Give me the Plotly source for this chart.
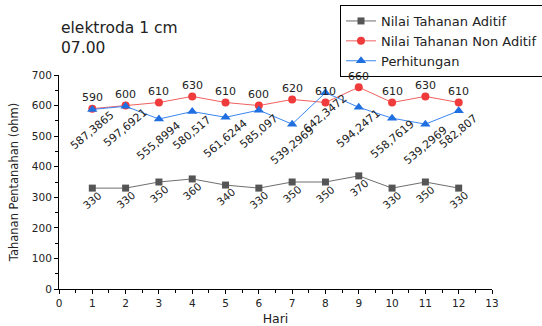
import plotly.graph_objects as go

hari = [1, 2, 3, 4, 5, 6, 7, 8, 9, 10, 11, 12]
aditif = [330, 330, 350, 360, 340, 330, 350, 350, 370, 330, 350, 330]
non_aditif = [590, 600, 610, 630, 610, 600, 620, 610, 660, 610, 630, 610]
perhitungan = [587.3865, 597.6921, 555.8994, 580.517, 561.6244, 585.097,
               539.2969, 642.3472, 594.2471, 558.7619, 539.2969, 582.807]
perhitungan_lbl = ["587,3865", "597,6921", "555,8994", "580,517", "561,6244", "585,097",
                   "539,2969", "642,3472", "594,2471", "558,7619", "539,2969", "582,807"]

FONT = "DejaVu Sans, Liberation Sans, Arial, sans-serif"
GRAY, RED, BLUE = "#555555", "#ef3b3b", "#1f6fe0"

fig = go.Figure()
fig.add_trace(go.Scatter(x=hari, y=aditif, name="Nilai Tahanan Aditif", mode="lines+markers",
                         line=dict(color="#6e6e6e", width=1),
                         marker=dict(symbol="square", size=7, color=GRAY)))
fig.add_trace(go.Scatter(x=hari, y=non_aditif, name="Nilai Tahanan Non Aditif", mode="lines+markers",
                         line=dict(color="#f26060", width=1),
                         marker=dict(symbol="circle", size=8, color=RED)))
fig.add_trace(go.Scatter(x=hari, y=perhitungan, name="Perhitungan", mode="lines+markers",
                         line=dict(color="#3a86f0", width=1),
                         marker=dict(symbol="triangle-up", size=9, color=BLUE)))

ann = []
for x, y in zip(hari, non_aditif):
    ann.append(dict(x=x, y=y, text=str(y), showarrow=False, yshift=11,
                    font=dict(size=11, color="#222", family=FONT)))
for x, y, t in zip(hari, perhitungan, perhitungan_lbl):
    ann.append(dict(x=x, y=y, text=t, showarrow=False, yshift=-21, textangle=-40,
                    font=dict(size=11, color="#222", family=FONT)))
for x, y in zip(hari, aditif):
    ann.append(dict(x=x, y=y, text=str(y), showarrow=False, yshift=-12, textangle=-40,
                    font=dict(size=10.5, color="#222", family=FONT)))

axis_common = dict(showline=True, linecolor="black", linewidth=1, ticks="outside",
                   ticklen=4, tickcolor="black", showgrid=False, zeroline=False,
                   automargin=False,
                   tickfont=dict(size=10.5, color="#222", family=FONT))

fig.update_layout(
    width=542, height=326,
    margin=dict(l=59, r=50, t=75, b=37, autoexpand=False),
    paper_bgcolor="white", plot_bgcolor="white",
    font=dict(family=FONT, color="#222"),
    annotations=ann,
    title=dict(text="elektroda 1 cm<br>07.00", x=61/542, xanchor="left", xref="container",
               y=1 - 33/326, yanchor="top", yref="container",
               font=dict(size=15.5, color="#222", family=FONT)),
    legend=dict(x=340/542, xref="container", xanchor="left", y=1 - 5/326, yref="container",
                yanchor="top", bordercolor="black", borderwidth=1, bgcolor="white",
                font=dict(size=13, color="#222", family=FONT), tracegroupgap=0,
                itemwidth=30),
    xaxis=dict(range=[0, 13], dtick=1, tick0=0,
               minor=dict(ticks="outside", dtick=0.5, ticklen=3, tickcolor="black"),
               title=dict(text="Hari", font=dict(size=12.5, family=FONT, color="#222"), standoff=8),
               **axis_common),
    yaxis=dict(range=[0, 700], dtick=100, tick0=0,
               minor=dict(ticks="outside", dtick=50, ticklen=3, tickcolor="black"),
               title=dict(text="Tahanan Pentanahan (ohm)", font=dict(size=11.5, family=FONT, color="#222"), standoff=10),
               **axis_common),
)

fig.write_html("out.html")
